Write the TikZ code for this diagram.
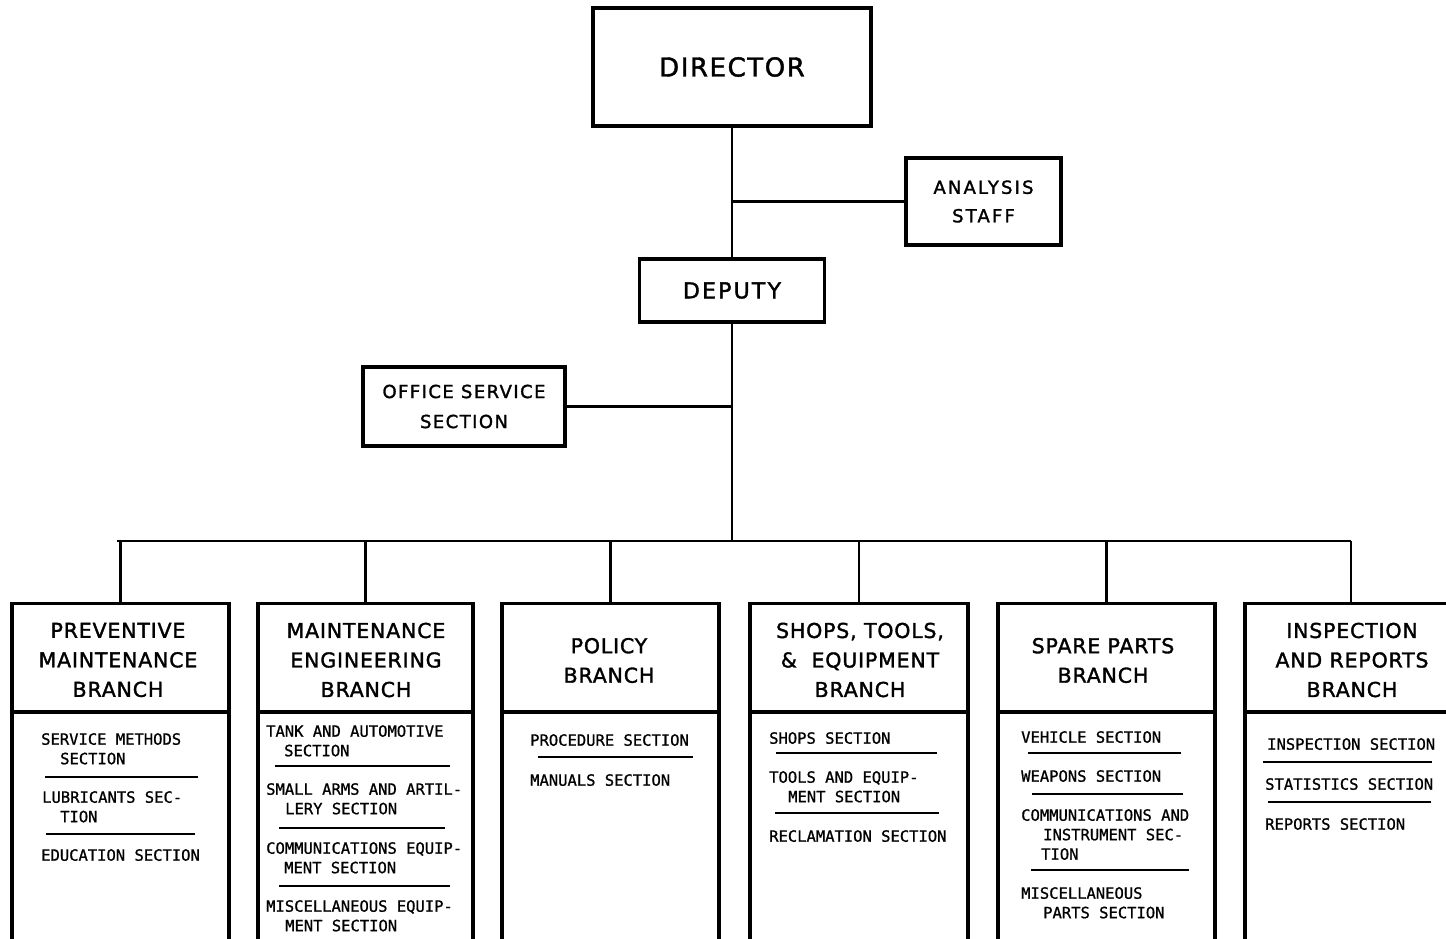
\documentclass[tikz,border=0pt]{standalone}
\usepackage{fontspec}
\newfontfamily\hfont[FakeBold=1.6]{DejaVu Sans}
\newfontfamily\smono[FakeBold=1.0]{DejaVu Sans Mono}
\begin{document}
\begin{tikzpicture}[x=1pt,y=-1pt,
  box/.style={draw, line width=3.2pt, inner sep=0pt, align=center},
  conn/.style={line width=2.8pt},
  rule/.style={line width=2.2pt},
  hdr/.style={font=\hfont\addfontfeature{LetterSpace=4}\fontsize{20.5}{29.5}\selectfont, align=center, inner sep=0pt},
  sec/.style={font=\smono\fontsize{15.5}{19.5}\selectfont, align=left, anchor=north west, inner sep=0pt},
  branch/.style={draw, line width=3.2pt, inner sep=0pt, anchor=north, minimum height=400pt},
]
\useasboundingbox (0,0) rectangle (1446,939);
\clip (0,0) rectangle (1446,939);

% top nodes
\node[box, minimum width=278pt, minimum height=118pt,
  font=\hfont\addfontfeature{LetterSpace=6}\fontsize{26}{30}\selectfont] (dir) at (732,67) {DIRECTOR};
\node[box, minimum width=155pt, minimum height=87pt,
  font=\hfont\addfontfeature{LetterSpace=12}\fontsize{18}{28.5}\selectfont] (ana) at (983.5,201.5) {ANALYSIS\\STAFF};
\node[box, minimum width=185pt, minimum height=63pt,
  font=\hfont\addfontfeature{LetterSpace=10}\fontsize{22}{26}\selectfont] (dep) at (732,290.5) {DEPUTY};
\node[box, minimum width=202pt, minimum height=79pt,
  font=\hfont\addfontfeature{LetterSpace=8}\fontsize{18}{30}\selectfont] (osc) at (464,406.5) {OFFICE SERVICE\\SECTION};

\coordinate (busC) at (732,541);
\draw[conn] (dir.south) -- (dep.north);
\draw[conn] (dir.south |- ana.west) -- (ana.west);
\draw[conn] (dep.south) -- (busC);
\draw[conn] (osc.east) -- (osc.east -| dep.south);

% branch boxes
\node[branch, minimum width=217pt] (b1) at (120.5,602) {};
\node[branch, minimum width=215pt] (b2) at (365.5,602) {};
\node[branch, minimum width=217pt] (b3) at (610.5,602) {};
\node[branch, minimum width=218pt] (b4) at (859,602) {};
\node[branch, minimum width=217pt] (b5) at (1106.5,602) {};
\node[branch, minimum width=212pt] (b6) at (1351,602) {};

\coordinate (busL) at (118,541);
\coordinate (busR) at (1350,541);
\draw[conn, line cap=rect] (busL) -- (busR);
\foreach \b in {b1,b2,b3,b4,b5,b6}{
  \draw[conn] (\b.north) -- (\b.north |- busC);
  \draw[line width=3.2pt] (\b.west |- 0,712) -- (\b.east |- 0,712);
}

% headers
\node[hdr] (h1) at (118,660) {PREVENTIVE\\MAINTENANCE\\BRANCH};
\node[hdr] (h2) at (366,660) {MAINTENANCE\\ENGINEERING\\BRANCH};
\node[hdr] (h3) at (609,660.5) {POLICY\\BRANCH};
\node[hdr] (h4) at (860,660) {SHOPS, TOOLS,\\\&\ \ EQUIPMENT\\BRANCH};
\node[hdr] (h5) at (1103,660.5) {SPARE PARTS\\BRANCH};
\node[hdr] (h6) at (1352,660) {INSPECTION\\AND REPORTS\\BRANCH};

% sections: branch 1
\node[sec] (s1a) at (41,733) {SERVICE METHODS\\\hspace*{19pt}SECTION};
\draw[rule] (45,777) -- (198,777);
\node[sec] (s1b) at (42,791) {LUBRICANTS SEC-\\\hspace*{18pt}TION};
\draw[rule] (46,834) -- (195,834);
\node[sec] (s1c) at (41,849) {EDUCATION SECTION};

% branch 2
\node[sec] (s2a) at (266,725) {TANK AND AUTOMOTIVE\\\hspace*{18pt}SECTION};
\draw[rule] (275,766) -- (450,766);
\node[sec] (s2b) at (266,783) {SMALL ARMS AND ARTIL-\\\hspace*{19pt}LERY SECTION};
\draw[rule] (279,828) -- (445,828);
\node[sec] (s2c) at (266,842) {COMMUNICATIONS EQUIP-\\\hspace*{18pt}MENT SECTION};
\draw[rule] (279,886) -- (450,886);
\node[sec] (s2d) at (266,900) {MISCELLANEOUS EQUIP-\\\hspace*{19pt}MENT SECTION};

% branch 3
\node[sec] (s3a) at (530,734) {PROCEDURE SECTION};
\draw[rule] (538,757) -- (693,757);
\node[sec] (s3b) at (530,774) {MANUALS SECTION};

% branch 4
\node[sec] (s4a) at (769,732) {SHOPS SECTION};
\draw[rule] (776,753) -- (937,753);
\node[sec] (s4b) at (769,771) {TOOLS AND EQUIP-\\\hspace*{19pt}MENT SECTION};
\draw[rule] (775,813) -- (939,813);
\node[sec] (s4c) at (769,830) {RECLAMATION SECTION};

% branch 5
\node[sec] (s5a) at (1021,731) {VEHICLE SECTION};
\draw[rule] (1028,753) -- (1181,753);
\node[sec] (s5b) at (1021,770) {WEAPONS SECTION};
\draw[rule] (1032,794) -- (1183,794);
\node[sec] (s5c) at (1021,809) {COMMUNICATIONS AND\\\hspace*{22pt}INSTRUMENT SEC-\\\hspace*{20pt}TION};
\draw[rule] (1031,870) -- (1189,870);
\node[sec] (s5d) at (1021,887) {MISCELLANEOUS\\\hspace*{22pt}PARTS SECTION};

% branch 6
\node[sec] (s6a) at (1267,738) {INSPECTION SECTION};
\draw[rule] (1263,762) -- (1432,762);
\node[sec] (s6b) at (1265,778) {STATISTICS SECTION};
\draw[rule] (1268,802) -- (1431,802);
\node[sec] (s6c) at (1265,818) {REPORTS SECTION};
\end{tikzpicture}
\end{document}
